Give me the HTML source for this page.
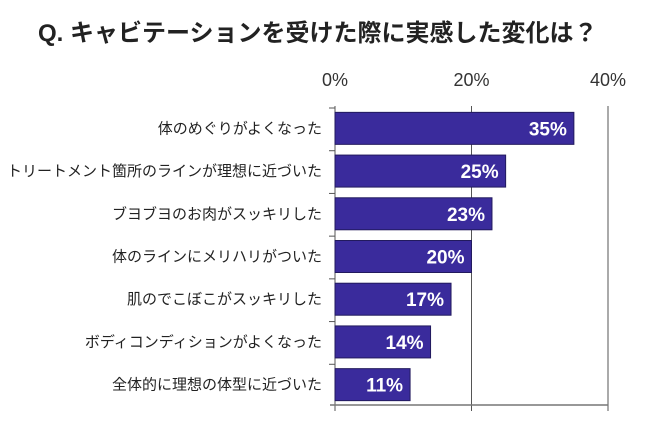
<!DOCTYPE html>
<html><head><meta charset="utf-8"><style>
body{margin:0;background:#fff;width:650px;height:424px;overflow:hidden}
svg text{font-family:"Liberation Sans","Noto Sans CJK JP",sans-serif}
</style></head><body>
<svg id="c" width="650" height="424">
<text x="38" y="41" font-size="24" font-weight="bold" fill="#222">Q. キャビテーションを受けた際に実感した変化は？</text>
</svg>
<script>
const categories=["体のめぐりがよくなった","トリートメント箇所のラインが理想に近づいた","ブヨブヨのお肉がスッキリした","体のラインにメリハリがついた","肌のでこぼこがスッキリした","ボディコンディションがよくなった","全体的に理想の体型に近づいた"];
const values=[35,25,23,20,17,14,11];
const tickValues=[0,20,40];
const tickLabels=["0%","20%","40%"];
(function(){
const svg=document.getElementById('c');
const NS='http://www.w3.org/2000/svg';
const x0=335,x1=608,plotTop=106,plotBottom=405,maxV=40;
const xs=v=>x0+(v/maxV)*(x1-x0);
const band=(plotBottom-plotTop)/categories.length;
function mk(t,a){const e=document.createElementNS(NS,t);for(const k in a)e.setAttribute(k,a[k]);svg.appendChild(e);return e;}
tickValues.forEach((v,i)=>{
 const g=mk('line',{x1:xs(v),x2:xs(v),y1:plotTop,y2:plotBottom+6,stroke:'#555','stroke-width':1});
 
 
 const t=mk('text',{x:xs(v),y:86,'font-size':18,'text-anchor':'middle',fill:'#333'});
 t.textContent=tickLabels[i];
 
 
});
const ax=mk('line',{x1:x0-5,x2:x1,y1:plotBottom,y2:plotBottom,stroke:'#777','stroke-width':1.5});


for(let i=0;i<categories.length;i++){
 const tk=mk('line',{x1:x0-6,x2:x0,y1:plotTop+i*band+2,y2:plotTop+i*band+2,stroke:'#555'});
 
 
}
categories.forEach((c,i)=>{
 const yc=plotTop+band*i+band/2+1;
 const b=mk('rect',{x:x0,y:yc-16,width:xs(values[i])-x0,height:32,fill:'#3a2b9c',stroke:'#221a5e','stroke-width':1});
 
 
 const v=mk('text',{x:xs(values[i])-7,y:yc+7,'font-size':19,'font-weight':'bold','text-anchor':'end',fill:'#fff'});
 v.textContent=values[i]+'%';
 
 
 const l=mk('text',{x:322,y:yc+5,'font-size':15,'text-anchor':'end',fill:'#222'});
 l.textContent=c;
 
 
});
})();
</script>
</body></html>
